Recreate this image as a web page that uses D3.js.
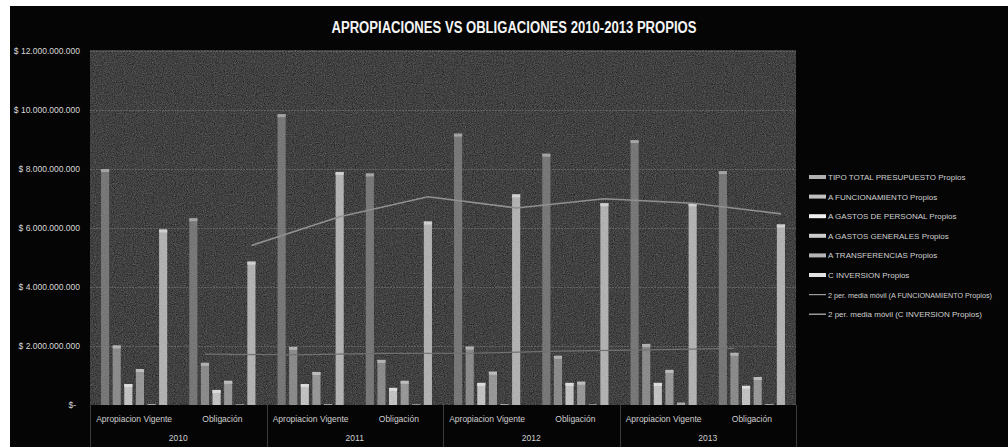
<!DOCTYPE html>
<html><head><meta charset="utf-8">
<script src="https://cdn.jsdelivr.net/npm/d3@7"></script>
<style>html,body{margin:0;padding:0;background:#fff;}svg{display:block;}</style>
</head><body>
<script>
const years = ["2010","2011","2012","2013"];
const subCats = ["Apropiacion Vigente","Obligación"];
const seriesNames = ["TIPO TOTAL PRESUPUESTO Propios","A FUNCIONAMIENTO Propios","A GASTOS DE PERSONAL Propios","A GASTOS GENERALES Propios","A TRANSFERENCIAS Propios","C INVERSION Propios"];
const total          = [8.00e9, 6.33e9, 9.86e9, 7.85e9, 9.20e9, 8.52e9, 8.98e9, 7.93e9];
const funcionamiento = [2.02e9, 1.43e9, 1.97e9, 1.53e9, 1.98e9, 1.67e9, 2.07e9, 1.77e9];
const personal       = [0.71e9, 0.51e9, 0.71e9, 0.58e9, 0.75e9, 0.75e9, 0.75e9, 0.65e9];
const generales      = [1.22e9, 0.82e9, 1.12e9, 0.82e9, 1.13e9, 0.79e9, 1.19e9, 0.95e9];
const transferencias = [0.03e9, 0.02e9, 0.03e9, 0.02e9, 0.03e9, 0.02e9, 0.08e9, 0.03e9];
const inversion      = [5.95e9, 4.86e9, 7.90e9, 6.22e9, 7.14e9, 6.84e9, 6.84e9, 6.12e9];
const yTicks = [0, 2e9, 4e9, 6e9, 8e9, 10e9, 12e9];
const yTickLabels = ["$-","$ 2.000.000.000","$ 4.000.000.000","$ 6.000.000.000","$ 8.000.000.000","$ 10.000.000.000","$ 12.000.000.000"];
const maNames = ["2 per. media móvil (A FUNCIONAMIENTO Propios)","2 per. media móvil (C INVERSION Propios)"];
const titleText = "APROPIACIONES VS OBLIGACIONES 2010-2013 PROPIOS";

const seriesValues = [total, funcionamiento, personal, generales, transferencias, inversion];
const barColors = ["#7e7e7e","#949494","#d2d2d2","#a2a2a2","#8a8a8a","#c0c0c0"];
const capColors = ["#b0b0b0","#c0c0c0","#f0f0f0","#cccccc","#b4b4b4","#e2e2e2"];

const W = 1008, H = 447;
const cats = [];
years.forEach(y => subCats.forEach(s => cats.push(y + "|" + s)));

const svg = d3.select("body").append("svg").attr("width", W).attr("height", H);
const defs = svg.append("defs");
const f = defs.append("filter").attr("id","noise").attr("x",0).attr("y",0).attr("width","100%").attr("height","100%")
  .attr("color-interpolation-filters","sRGB");
f.append("feTurbulence").attr("type","fractalNoise").attr("baseFrequency","0.9").attr("numOctaves",2).attr("seed",7);
f.append("feColorMatrix").attr("type","matrix").attr("values","0.5 0.5 0.5 0 -0.45  0.5 0.5 0.5 0 -0.45  0.5 0.5 0.5 0 -0.45  0 0 0 0 1");

svg.append("rect").attr("width",W).attr("height",H).attr("fill","#fff");
svg.append("rect").attr("x",10).attr("y",6).attr("width",W-10).attr("height",H-6).attr("fill","#050505");

const L = 90, R = 796, T = 50, B = 405;
const x0 = d3.scaleBand().domain(cats).range([L, R]);
const x1 = d3.scaleBand().domain(d3.range(6)).range([0, x0.bandwidth()]).paddingInner(0.3).paddingOuter(0.95);
const y = d3.scaleLinear().domain([0, 12e9]).range([B, T + 1]);

// plot area
svg.append("rect").attr("x",L).attr("y",T).attr("width",R-L).attr("height",B-T).attr("fill","#3a3a3a");
svg.append("rect").attr("x",L).attr("y",T).attr("width",R-L).attr("height",B-T).attr("filter","url(#noise)").attr("opacity",0.3);

// gridlines
svg.append("g").selectAll("line").data(yTicks.slice(1)).join("line")
  .attr("x1",L).attr("x2",R).attr("y1",d=>Math.round(y(d))+0.5).attr("y2",d=>Math.round(y(d))+0.5)
  .attr("stroke","#666666").attr("stroke-width",1).attr("stroke-dasharray","2,1");

// bars
const gBars = svg.append("g");
seriesValues.forEach((vals, si) => {
  const g = gBars.append("g");
  g.selectAll("rect.bar").data(vals).join("rect").attr("class","bar")
    .attr("x",(d,i)=>x0(cats[i]) + x1(si))
    .attr("width",x1.bandwidth())
    .attr("y",d=>y(d)).attr("height",d=>B - y(d))
    .attr("fill",barColors[si]);
  g.selectAll("rect.cap").data(vals).join("rect").attr("class","cap")
    .attr("x",(d,i)=>x0(cats[i]) + x1(si))
    .attr("width",x1.bandwidth())
    .attr("y",d=>y(d)).attr("height",d=>Math.min(3, B - y(d)))
    .attr("fill",capColors[si]);
});

// moving averages
function ma(vals){ return vals.map((v,i)=> i===0 ? null : (v + vals[i-1]) / 2); }
const maSeries = [{vals: ma(funcionamiento), si:1, color:"#777777", w:1.2},{vals: ma(inversion), si:5, color:"#9a9a9a", w:1.6}];
maSeries.forEach(m => {
  const pts = m.vals.map((v,i)=> v===null ? null : [x0(cats[i]) + x1(m.si) + x1.bandwidth()/2, y(v)]).filter(p=>p);
  svg.append("path").attr("d", d3.line()(pts)).attr("fill","none").attr("stroke",m.color).attr("stroke-width",m.w);
});

// noise overlay on top
svg.append("rect").attr("x",L).attr("y",T).attr("width",R-L).attr("height",B-T).attr("filter","url(#noise)").attr("opacity",0.12);

// y-axis labels
const fontN = "'Liberation Sans Narrow','Arial Narrow',sans-serif";
svg.append("g").selectAll("text").data(yTicks).join("text")
  .attr("x",(d,i)=> i===0 ? 76 : 80).attr("y",d=>y(d)+3)
  .attr("text-anchor","end").attr("font-family",fontN).attr("font-size",8.5)
  .attr("fill","#d8d8d8").text((d,i)=>yTickLabels[i]);

// category axis
svg.append("g").selectAll("text").data(cats).join("text")
  .attr("x",d=>x0(d)+x0.bandwidth()/2).attr("y",422)
  .attr("text-anchor","middle").attr("font-family",fontN).attr("font-size",8.5)
  .attr("fill","#d0d0d0").text(d=>d.split("|")[1]);
svg.append("g").selectAll("text").data(years).join("text")
  .attr("x",yr=>x0(yr+"|"+subCats[0]) + x0.bandwidth()).attr("y",441)
  .attr("text-anchor","middle").attr("font-family",fontN).attr("font-size",8.5)
  .attr("fill","#d0d0d0").text(d=>d);
const seps = years.map(yr=>x0(yr+"|"+subCats[0])).concat([R]);
svg.append("g").selectAll("line").data(seps).join("line")
  .attr("x1",d=>Math.round(d)+0.5).attr("x2",d=>Math.round(d)+0.5).attr("y1",B).attr("y2",H)
  .attr("stroke","#3a3a3a").attr("stroke-width",1);

// title
svg.append("text").attr("x",514).attr("y",33).attr("text-anchor","middle")
  .attr("font-family",fontN).attr("font-weight","bold").attr("font-size",16)
  .attr("fill","#f4f4f4").attr("textLength",365).attr("lengthAdjust","spacingAndGlyphs").text(titleText);

// legend
const leg = svg.append("g");
const legItems = seriesNames.map((n,i)=>({name:n, type:"bar", color:capColors[i]}))
  .concat(maNames.map((n,i)=>({name:n, type:"line", color: i===0 ? "#9a9a9a" : "#bdbdbd"})));
legItems.forEach((it,i)=>{
  const yy = 177 + i*19.6;
  if (it.type === "bar") leg.append("rect").attr("x",809).attr("y",yy-2).attr("width",17).attr("height",4).attr("fill",it.color);
  else leg.append("line").attr("x1",809).attr("x2",826).attr("y1",yy).attr("y2",yy).attr("stroke",it.color).attr("stroke-width",1.2);
  const t = leg.append("text").attr("x",828).attr("y",yy+3).attr("font-family",fontN).attr("font-size",8)
    .attr("fill","#d0d0d0").text(it.name);
  const len = t.node().getComputedTextLength();
  const maxW = W - 16 - 828;
  if (len > maxW) t.attr("font-size", 8 * maxW / len);
});
</script>
</body></html>
